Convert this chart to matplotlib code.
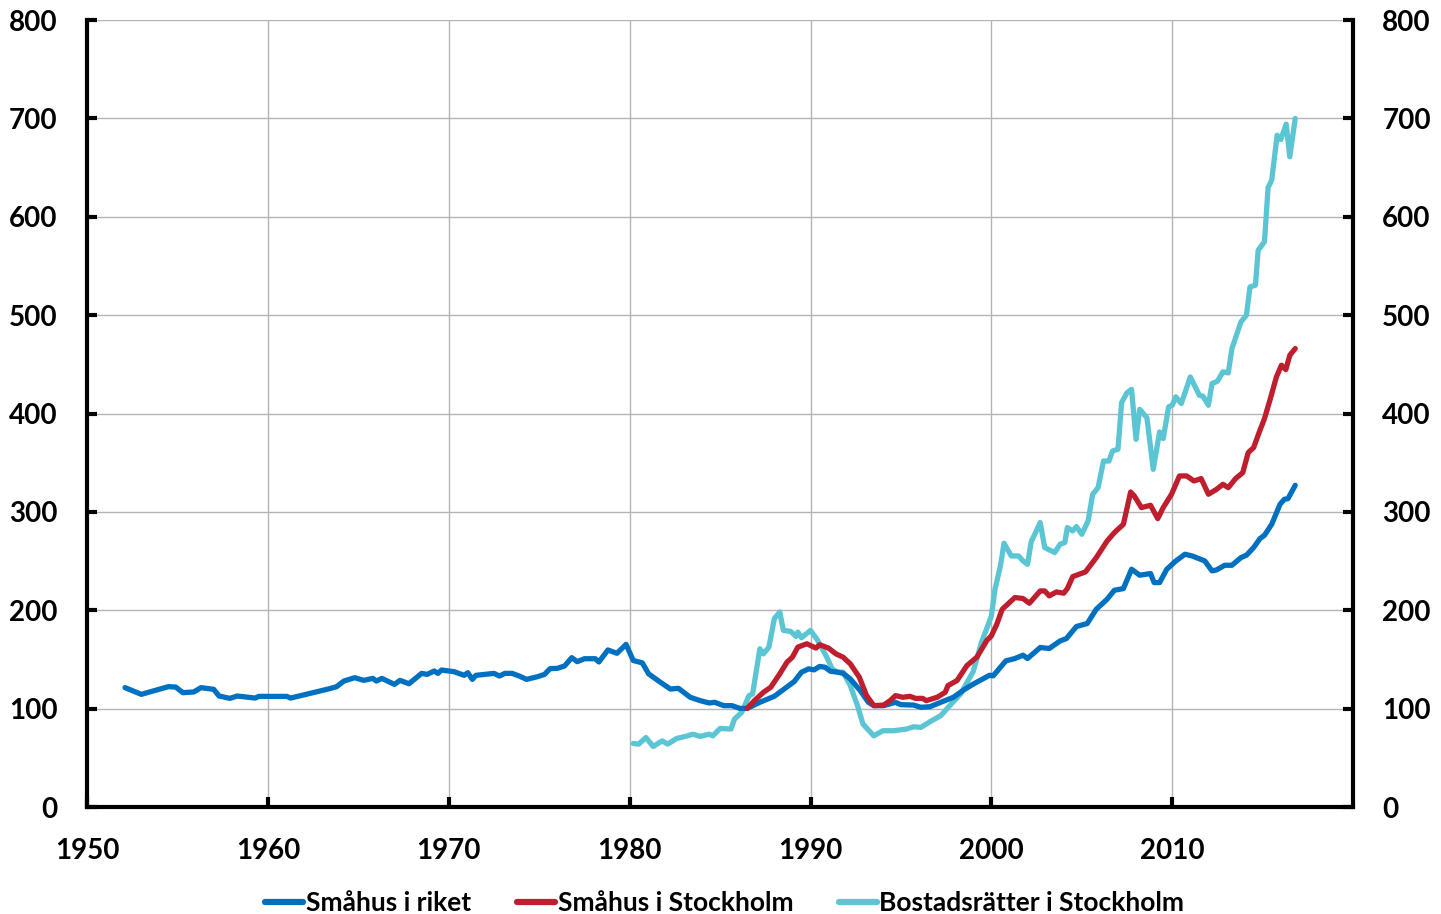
import matplotlib
matplotlib.use("Agg")
import matplotlib.pyplot as plt
from matplotlib.ticker import FixedLocator

# ---------------- data ----------------
riket_years = [1952.1, 1953.0, 1954.5, 1954.9, 1955.3, 1955.9, 1956.3, 1957.0, 1957.3, 1957.9,
               1958.3, 1959.3, 1959.5, 1961.05, 1961.25, 1963.4, 1963.8, 1964.2, 1964.8, 1965.3,
               1965.8, 1966.0, 1966.3, 1967.0, 1967.3, 1967.8, 1968.5, 1968.8, 1969.2, 1969.4,
               1969.6, 1970.3, 1970.85, 1971.05, 1971.3, 1971.5, 1972.5, 1972.8, 1973.1, 1973.5,
               1973.9, 1974.3, 1974.9, 1975.3, 1975.6, 1976.0, 1976.4, 1976.8, 1977.1, 1977.5,
               1978.1, 1978.3, 1978.8, 1979.3, 1979.8, 1980.2, 1980.7, 1981.05, 1981.7, 1982.25,
               1982.7, 1983.35, 1983.9, 1984.4, 1984.7, 1985.2, 1985.65, 1986.1, 1986.5, 1987.2,
               1988.0, 1988.5, 1989.1, 1989.5, 1989.9, 1990.2, 1990.5, 1990.8, 1991.1, 1991.5,
               1991.8, 1992.2, 1992.75, 1993.2, 1993.5, 1994.05, 1994.7, 1995.0, 1995.7, 1996.1,
               1996.6, 1997.2, 1997.9, 1998.5, 1999.0, 1999.9, 2000.1, 2000.8, 2001.3, 2001.75,
               2002.0, 2002.7, 2003.2, 2003.8, 2004.15, 2004.7, 2005.3, 2005.8, 2006.4, 2006.8,
               2007.3, 2007.75, 2008.2, 2008.8, 2009.0, 2009.3, 2009.7, 2010.2, 2010.7, 2011.1,
               2011.8, 2012.2, 2012.45, 2012.9, 2013.3, 2013.8, 2014.1, 2014.5, 2014.85, 2015.1,
               2015.5, 2015.96, 2016.2, 2016.4, 2016.8]
riket_values = [121.4, 114.6, 122.4, 122, 116.3, 117, 121.4, 119.7, 112.9, 110.5,
                112.9, 110.8, 112.5, 112.5, 110.8, 120.3, 122.4, 128.1, 131.5, 128.8,
                130.8, 128.1, 130.8, 124.7, 128.8, 125.4, 135.9, 134.9, 138.3, 135.9,
                139.3, 137.6, 133.9, 136.6, 129.8, 133.9, 135.9, 133.2, 135.9, 135.9,
                133.2, 129.8, 132.5, 134.9, 140.7, 141, 143.4, 151.9, 147.8, 150.8,
                150.8, 147.5, 159.7, 156.3, 165.4, 149, 146.6, 135.4, 126.9, 120,
                120.7, 111.6, 108.2, 105.8, 106.5, 103.1, 103.1, 100.3, 100.3, 106.5,
                112.6, 119.4, 127.6, 137.1, 140.5, 139.5, 142.9, 142.2, 138.1, 137.1,
                136, 130.3, 118.4, 106.5, 103.1, 103.1, 106.5, 104.1, 103.7, 101.4,
                102, 106.5, 111.6, 119.4, 125, 134, 133.4, 148.6, 151, 154.4,
                151, 162.2, 161.2, 168.9, 171.3, 183.5, 186.6, 201.1, 211.3, 220.4,
                222.1, 241.8, 235.7, 237.4, 228.2, 228.2, 241.8, 250.2, 257, 255.3,
                250.2, 240.1, 241.1, 245.8, 245.8, 253.6, 256, 263.8, 272.9, 276.3,
                287.5, 307.8, 312.9, 313.5, 327.1]

sthlm_years = [1986.5, 1986.9, 1987.4, 1987.8, 1988.3, 1988.7, 1989.0, 1989.3, 1989.8, 1990.3,
               1990.5, 1991.0, 1991.4, 1991.8, 1992.2, 1992.7, 1993.1, 1993.5, 1994.05, 1994.4,
               1994.7, 1995.1, 1995.5, 1995.8, 1996.2, 1996.4, 1997.0, 1997.45, 1997.6, 1998.1,
               1998.65, 1999.2, 1999.75, 2000.0, 2000.3, 2000.6, 2001.3, 2001.75, 2002.1, 2002.7,
               2002.95, 2003.2, 2003.6, 2004.0, 2004.2, 2004.5, 2005.2, 2005.8, 2006.4, 2006.8,
               2007.3, 2007.7, 2007.9, 2008.3, 2008.8, 2009.2, 2009.5, 2009.96, 2010.4, 2010.8,
               2011.2, 2011.6, 2012.0, 2012.45, 2012.8, 2013.1, 2013.5, 2013.9, 2014.2, 2014.5,
               2014.8, 2015.1, 2015.4, 2015.76, 2016.04, 2016.28, 2016.5, 2016.8]
sthlm_values = [100.3, 108.2, 116.7, 121.8, 135.4, 147.3, 152.4, 162.6, 166, 161.6,
                165, 161.6, 155.8, 152.4, 145.6, 132, 113.3, 103.1, 103.7, 108.2,
                113.3, 111.6, 112.6, 110.5, 110.5, 108.2, 111.6, 116.7, 123.5, 128.6,
                143.9, 152.4, 169.4, 174, 185.9, 201.1, 213, 212, 207.2, 219.7,
                219.7, 214.7, 218.7, 217.4, 222.1, 234.3, 239, 253.6, 270.5, 279,
                287.5, 320.3, 316.3, 304.4, 306.8, 293.2, 304.4, 318, 336.6, 336.6,
                331.5, 333.9, 318, 323, 328.1, 324.7, 333.9, 340, 360.3, 365.4,
                380.6, 394.9, 413.6, 437.3, 449.2, 444.7, 459.3, 466.1]

brf_years = [1980.2, 1980.5, 1980.9, 1981.3, 1981.8, 1982.1, 1982.6, 1983.2, 1983.5, 1983.9,
             1984.4, 1984.6, 1985.0, 1985.6, 1985.8, 1986.2, 1986.6, 1986.8, 1987.2, 1987.4,
             1987.7, 1988.0, 1988.3, 1988.5, 1988.9, 1989.2, 1989.3, 1989.5, 1990.0, 1990.4,
             1990.9, 1991.2, 1991.5, 1991.8, 1992.2, 1992.6, 1992.9, 1993.5, 1994.0, 1994.6,
             1995.3, 1995.7, 1996.1, 1996.6, 1997.2, 1997.7, 1998.3, 1999.0, 1999.45, 1999.8,
             2000.0, 2000.2, 2000.5, 2000.7, 2001.1, 2001.5, 2001.75, 2002.0, 2002.2, 2002.7,
             2002.95, 2003.5, 2003.8, 2004.06, 2004.2, 2004.5, 2004.7, 2005.0, 2005.35, 2005.6,
             2005.9, 2006.2, 2006.5, 2006.7, 2007.0, 2007.2, 2007.5, 2007.75, 2008.0, 2008.2,
             2008.6, 2008.95, 2009.3, 2009.5, 2009.8, 2010.0, 2010.2, 2010.5, 2011.0, 2011.5,
             2011.7, 2012.0, 2012.2, 2012.5, 2012.8, 2013.1, 2013.3, 2013.8, 2014.1, 2014.3,
             2014.6, 2014.75, 2015.1, 2015.3, 2015.5, 2015.8, 2016.0, 2016.3, 2016.5, 2016.8]
brf_values = [64.6, 64, 70.7, 61.6, 67.3, 64, 69.7, 72.4, 74.1, 71.8,
              74.1, 72.4, 79.9, 79.3, 89.5, 96.3, 113.3, 115, 160.9, 155.8,
              162.6, 191.5, 198.3, 179.6, 178.6, 173.5, 177.9, 172.1, 179.6, 169.4,
              152.4, 140.5, 137.1, 137.1, 123.5, 103.1, 84.4, 72.4, 77.6, 77.6,
              79.3, 81.6, 81, 86.7, 92.9, 103.1, 115, 138, 167.3, 184.2,
              194.3, 221.4, 245.1, 268.2, 255.3, 255.3, 250.2, 246.8, 269.5, 289.2,
              263.8, 258.7, 267.2, 268.8, 284.1, 280.7, 285.1, 277.3, 290.9, 317.9,
              324.7, 351.8, 351.8, 362, 363.7, 411.1, 421.2, 424.6, 373.8, 404.3,
              395.8, 343.3, 381.3, 374.6, 406.8, 408.5, 417, 410.2, 437.3, 418.6,
              417.6, 408.5, 430.5, 432.9, 442.4, 441.4, 466.1, 493.2, 500, 528.8,
              530.5, 566.1, 574.6, 629.8, 637.3, 683, 678.6, 694.2, 661, 700]

series_labels = ["Småhus i riket", "Småhus i Stockholm", "Bostadsrätter i Stockholm"]
x_ticks = [1950, 1960, 1970, 1980, 1990, 2000, 2010]
y_ticks = [0, 100, 200, 300, 400, 500, 600, 700, 800]

# ---------------- style ----------------
plt.rcParams['font.family'] = ['Lato', 'DejaVu Sans']
plt.rcParams['font.weight'] = 'bold'

fig = plt.figure(figsize=(14.41, 9.14), dpi=100)
ax = fig.add_axes([0.0604, 0.117, 0.8786, 0.861])

col_blue = "#0070C0"
col_red = "#BE1E2D"
col_cyan = "#5BC5D3"
lw = 3.8

ax.plot(riket_years, riket_values, color=col_blue, lw=lw, label=series_labels[0],
        solid_capstyle='round', solid_joinstyle='round', zorder=3)
ax.plot(sthlm_years, sthlm_values, color=col_red, lw=lw, label=series_labels[1],
        solid_capstyle='round', solid_joinstyle='round', zorder=4)
ax.plot(brf_years, brf_values, color=col_cyan, lw=lw, label=series_labels[2],
        solid_capstyle='round', solid_joinstyle='round', zorder=2)

ax.set_xlim(1950, 2020)
ax.set_ylim(0, 800)
ax.xaxis.set_major_locator(FixedLocator(x_ticks))
ax.yaxis.set_major_locator(FixedLocator(y_ticks))

ax.grid(True, color="#b4b4b4", lw=1.0, zorder=0)
ax.set_axisbelow(True)

for s in ['left', 'right', 'bottom']:
    ax.spines[s].set_linewidth(3.0)
    ax.spines[s].set_color('black')
ax.spines['top'].set_visible(False)

ax.tick_params(axis='both', direction='in', length=7, width=3.0, color='black',
               labelsize=20, labelcolor='black')
ax.tick_params(axis='y', left=True, right=True, labelleft=True, labelright=True, pad=21)
ax.tick_params(axis='x', pad=22)
for lab in ax.get_xticklabels() + ax.get_yticklabels():
    lab.set_fontweight('bold')
for lab in ax.yaxis.get_ticklabels(which='major'):
    lab.set_fontweight('bold')

handles, labels = ax.get_legend_handles_labels()
leg = fig.legend(handles, labels, loc='lower center', bbox_to_anchor=(0.503, -0.027),
                 ncol=3, frameon=False, handlelength=1.45,
                 handletextpad=0.1, columnspacing=1.72,
                 prop={'family': ['Lato', 'DejaVu Sans'], 'weight': 'bold', 'size': 19})
for line in leg.get_lines():
    line.set_linewidth(4.5)

fig.savefig("out.png", dpi=100)
